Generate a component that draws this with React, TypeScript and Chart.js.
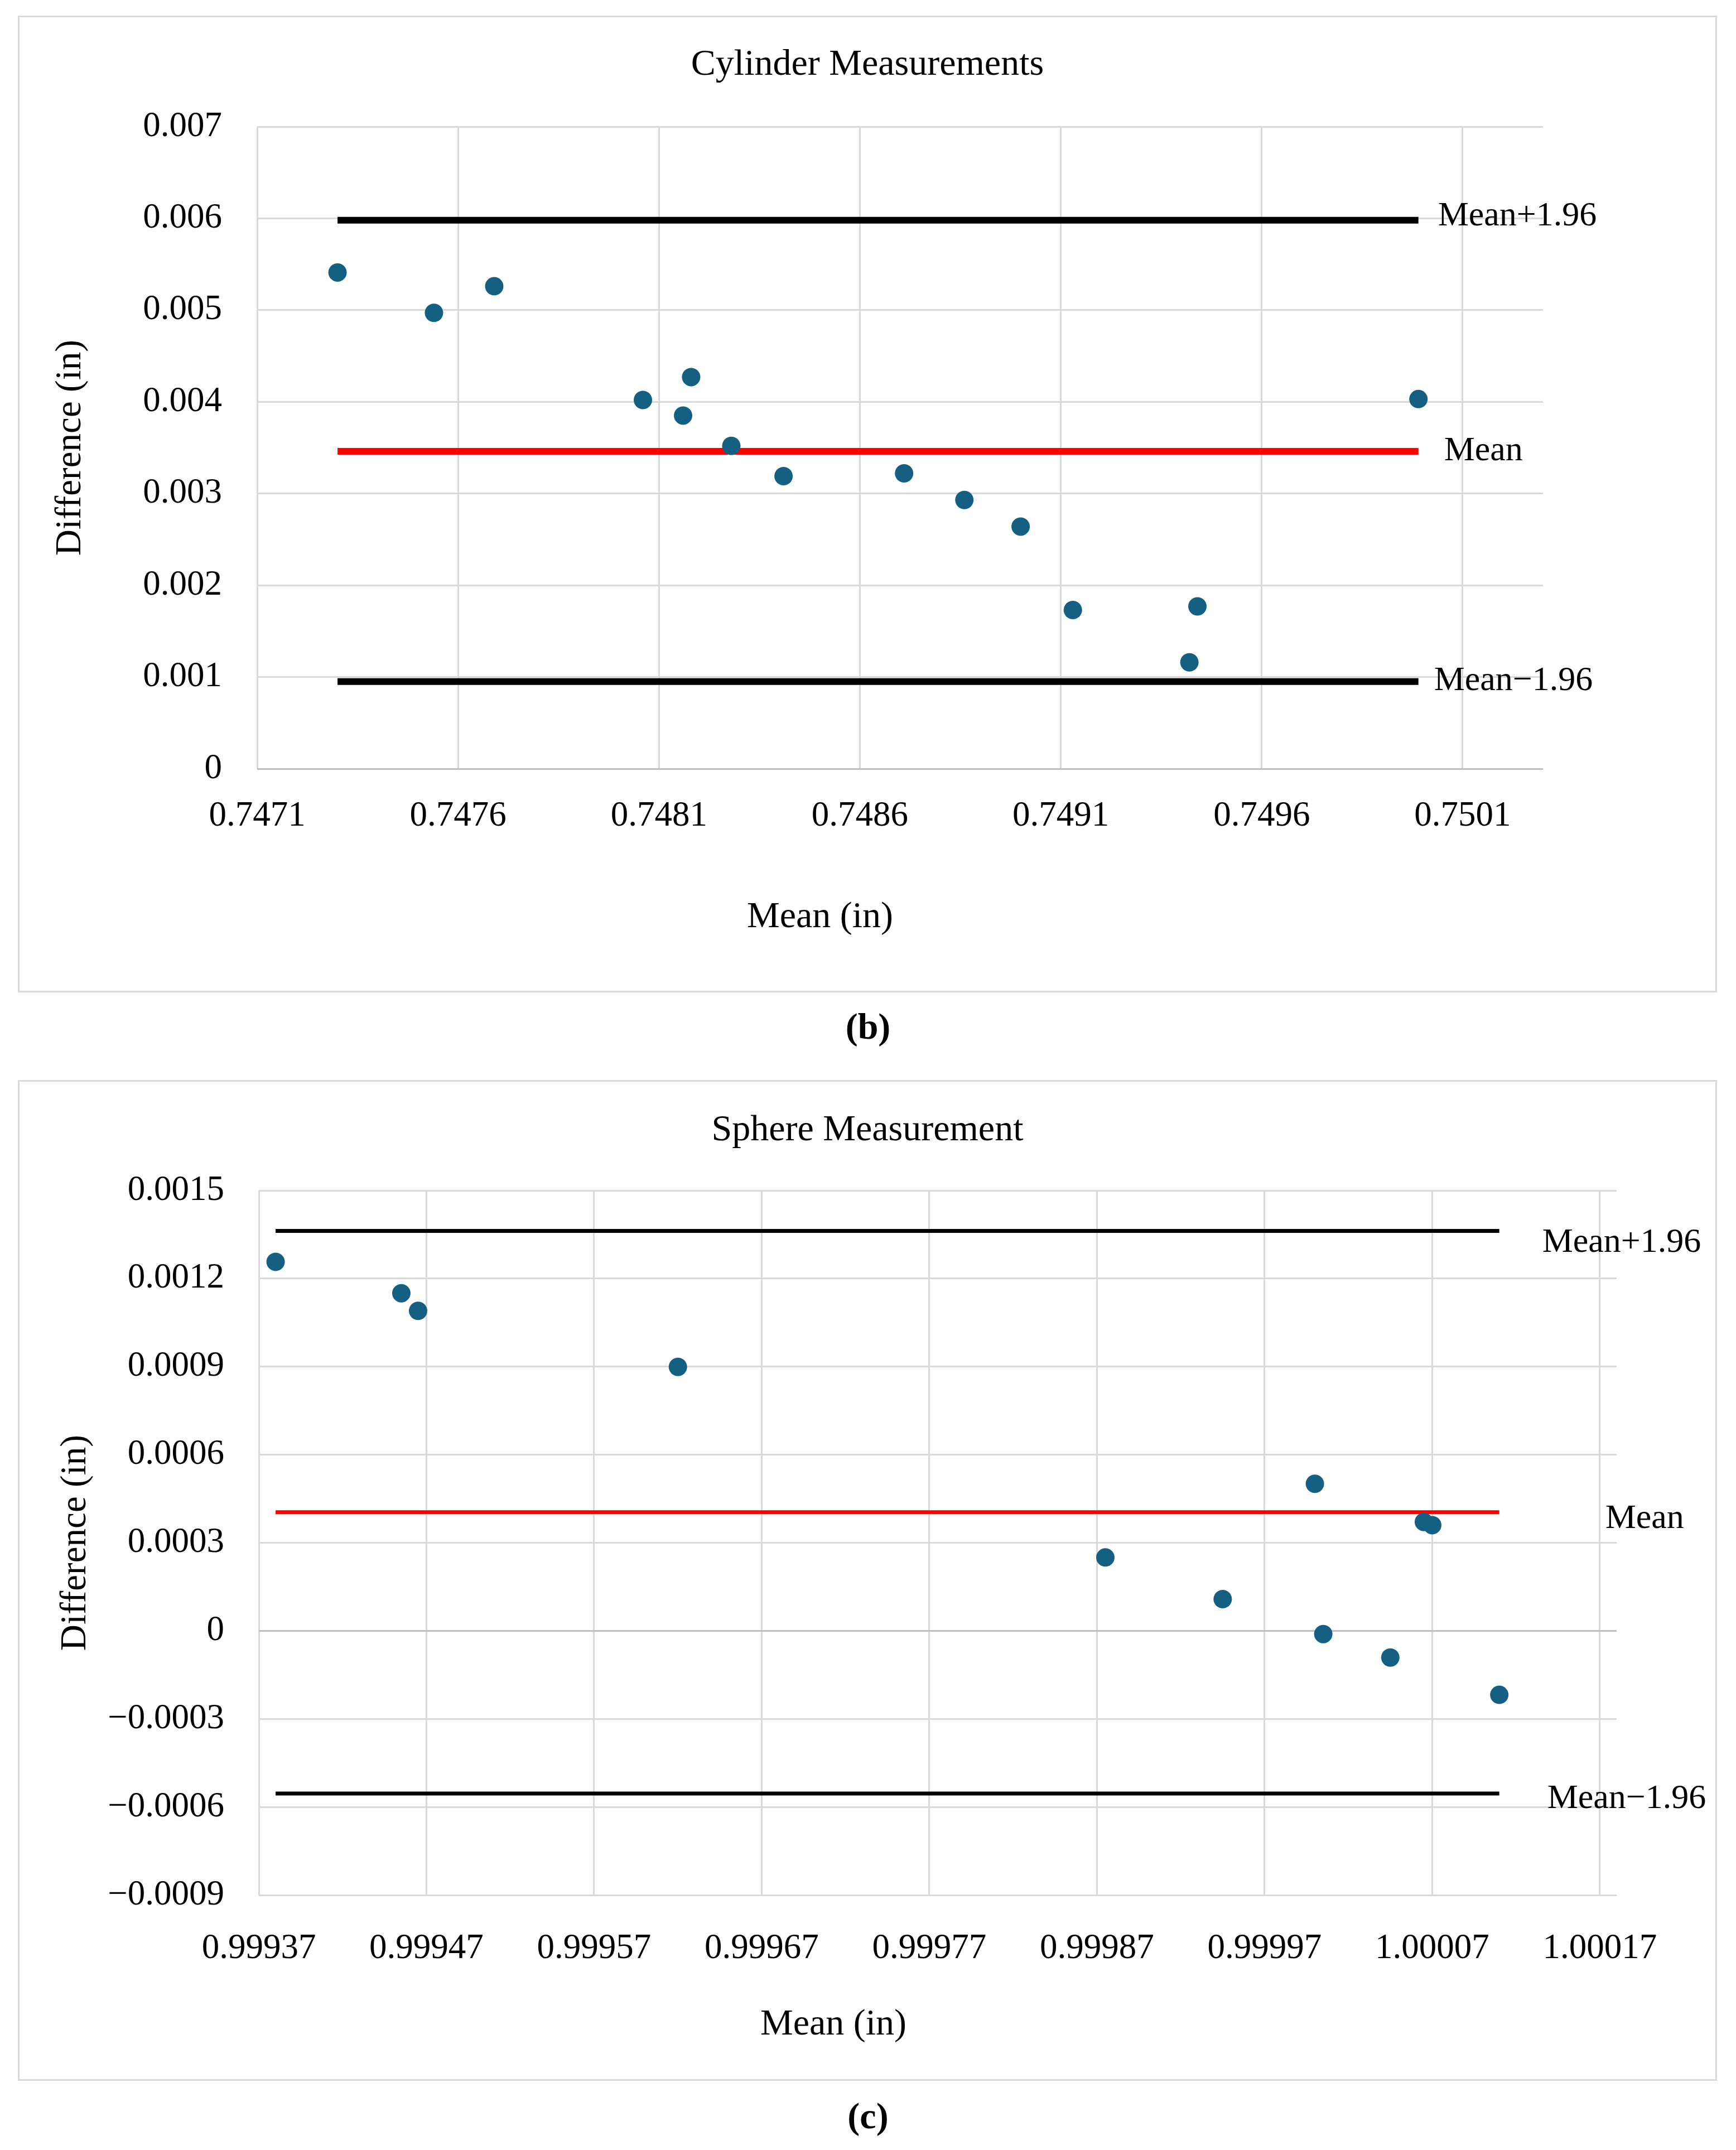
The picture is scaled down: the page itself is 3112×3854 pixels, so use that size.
import React, { useEffect, useRef } from "react";
import { Chart, registerables } from "chart.js";
import type { ChartConfiguration, Plugin } from "chart.js";

Chart.register(...registerables);

const FONT = "'Liberation Serif', 'Times New Roman', serif";
const POINT_COLOR = "#156082";
const GRID_COLOR = "#d9d9d9";
const ZERO_COLOR = "#bfbfbf";
const TEXT_COLOR = "#000000";

// (b) Cylinder measurements
const cylinderMeans = [
    0.7473, 0.74754, 0.74769, 0.74806, 0.74816, 0.74818, 0.74828, 0.74841,
    0.74871, 0.74886, 0.749, 0.74913, 0.74942, 0.74944, 0.74999,
];
const cylinderDiffs = [
    0.00541, 0.00497, 0.00526, 0.00402, 0.00385, 0.00427, 0.00352, 0.00319,
    0.00322, 0.00293, 0.00264, 0.00173, 0.00116, 0.00177, 0.00403,
];
const cylinderLimits = [0.00598, 0.00346, 0.00095];
const cylinderXTicks = ["0.7471", "0.7476", "0.7481", "0.7486", "0.7491", "0.7496", "0.7501"];
const cylinderXMax = 0.7503;
const cylinderYTicks = ["0", "0.001", "0.002", "0.003", "0.004", "0.005", "0.006", "0.007"];

// (c) Sphere measurement
const sphereMeans = [
    0.99938, 0.999455, 0.999465, 0.99962, 0.999875, 0.999945, 1.0, 1.000005,
    1.000045, 1.000065, 1.00007, 1.00011,
];
const sphereDiffs = [
    0.001257, 0.00115, 0.00109, 0.000899, 0.00025, 0.000108, 0.000501, -0.000011,
    -0.000091, 0.000371, 0.00036, -0.000218,
];
const sphereLimits = [0.001362, 0.000404, -0.000554];
const sphereXTicks = ["0.99937", "0.99947", "0.99957", "0.99967", "0.99977", "0.99987", "0.99997", "1.00007", "1.00017"];
const sphereXMax = 1.00018;
const sphereYTicks = ["−0.0009", "−0.0006", "−0.0003", "0", "0.0003", "0.0006", "0.0009", "0.0012", "0.0015"];

const limitLabels = ["Mean+1.96", "Mean", "Mean−1.96"];
const limitColors = ["#000000", "#ff0000", "#000000"];

const tickValue = (label: string) => Number(label.replace("−", "-"));

type PanelSpec = {
    title: string;
    caption: string;
    means: number[];
    diffs: number[];
    limits: number[];
    xTicks: string[];
    xMax: number;
    yTicks: string[];
    lineWidth: number;
    labelOffsets: [number, number][];
    box: { left: number; top: number; width: number; height: number };
    plot: { left: number; right: number; top: number; bottom: number };
    titleY: number;
    yTitlePad: number;
    yTickPad: number;
    xTickPad: number;
    xTitleAt: [number, number];
    captionY: number;
};

const panels: PanelSpec[] = [
    {
        title: "Cylinder Measurements",
        caption: "(b)",
        means: cylinderMeans,
        diffs: cylinderDiffs,
        limits: cylinderLimits,
        xTicks: cylinderXTicks,
        xMax: cylinderXMax,
        yTicks: cylinderYTicks,
        lineWidth: 12,
        labelOffsets: [[35, -7], [46, 0], [28, -1]],
        box: { left: 32, top: 28, width: 3046, height: 1751 },
        plot: { left: 426, right: 2731, top: 196, bottom: 1347 },
        titleY: 86,
        yTitlePad: 53,
        yTickPad: 63,
        xTickPad: 48,
        xTitleAt: [1009, 267],
        captionY: 1840,
    },
    {
        title: "Sphere Measurement",
        caption: "(c)",
        means: sphereMeans,
        diffs: sphereDiffs,
        limits: sphereLimits,
        xTicks: sphereXTicks,
        xMax: sphereXMax,
        yTicks: sphereYTicks,
        lineWidth: 7,
        labelOffsets: [[77, 21], [190, 12], [86, 10]],
        box: { left: 32, top: 1936, width: 3046, height: 1794 },
        plot: { left: 429, right: 2863, top: 195, bottom: 1458 },
        titleY: 88,
        yTitlePad: 62,
        yTickPad: 62,
        xTickPad: 59,
        xTitleAt: [1030, 233],
        captionY: 3793,
    },
];

// chart title, limit-line labels at the right end of each line, and the x axis title
const annotationPlugin: Plugin = {
    id: "baAnnotations",
    afterDatasetsDraw(chart, _args, opts: any) {
        const ctx = chart.ctx;
        ctx.save();
        ctx.fillStyle = TEXT_COLOR;
        ctx.textBaseline = "middle";

        ctx.textAlign = "center";
        ctx.font = `66px ${FONT}`;
        ctx.fillText(opts.title, chart.width / 2, opts.titleY);

        ctx.textAlign = "left";
        ctx.font = `62px ${FONT}`;
        opts.labels.forEach((text: string, i: number) => {
            const meta = chart.getDatasetMeta(i + 1);
            const end: any = meta.data[meta.data.length - 1];
            if (!end) return;
            const [dx, dy] = opts.offsets[i];
            ctx.fillText(text, end.x + dx, end.y + dy);
        });

        ctx.textAlign = "center";
        ctx.font = `66px ${FONT}`;
        ctx.fillText(opts.xTitle, chart.chartArea.left + opts.xTitleAt[0], chart.chartArea.bottom + opts.xTitleAt[1]);
        ctx.restore();
    },
};

const buildConfig = (spec: PanelSpec, width: number, height: number): ChartConfiguration => {
    const xValues = spec.xTicks.map(tickValue);
    const yValues = spec.yTicks.map(tickValue);
    const lo = Math.min(...spec.means);
    const hi = Math.max(...spec.means);
    const gridColor = (ctx: any) => (ctx.tick && Math.abs(ctx.tick.value) < 1e-12 ? ZERO_COLOR : GRID_COLOR);
    const tickFont = { family: FONT, size: 63 };

    return {
        type: "scatter",
        data: {
            datasets: [
                {
                    label: "Difference",
                    data: spec.means.map((x, i) => ({ x, y: spec.diffs[i] })),
                    backgroundColor: POINT_COLOR,
                    borderColor: POINT_COLOR,
                    borderWidth: 0,
                    pointRadius: 16.5,
                    order: 0,
                },
                ...spec.limits.map((value, i) => ({
                    label: limitLabels[i],
                    data: [
                        { x: lo, y: value },
                        { x: hi, y: value },
                    ],
                    showLine: true,
                    borderColor: limitColors[i],
                    backgroundColor: limitColors[i],
                    borderWidth: spec.lineWidth,
                    borderCapStyle: "butt" as const,
                    pointRadius: 0,
                    order: 1,
                })),
            ],
        },
        options: {
            responsive: false,
            devicePixelRatio: 1,
            animation: false,
            layout: {
                autoPadding: false,
                padding: { left: 0, top: spec.plot.top, bottom: 0, right: width - spec.plot.right },
            },
            plugins: {
                legend: { display: false },
                tooltip: { enabled: false },
                title: { display: false },
                baAnnotations: {
                    title: spec.title,
                    titleY: spec.titleY,
                    labels: limitLabels,
                    offsets: spec.labelOffsets,
                    xTitle: "Mean (in)",
                    xTitleAt: spec.xTitleAt,
                },
            } as any,
            scales: {
                x: {
                    type: "linear",
                    min: xValues[0],
                    max: spec.xMax,
                    afterBuildTicks: (scale: any) => {
                        scale.ticks = xValues.map((value) => ({ value }));
                    },
                    afterFit: (scale: any) => {
                        scale.height = height - spec.plot.bottom;
                    },
                    ticks: {
                        callback: (_value: any, index: number) => spec.xTicks[index],
                        color: TEXT_COLOR,
                        font: tickFont,
                        padding: spec.xTickPad,
                        autoSkip: false,
                        maxRotation: 0,
                    },
                    grid: { color: gridColor, lineWidth: 3, drawTicks: false },
                    border: { display: false },
                },
                y: {
                    type: "linear",
                    min: yValues[0],
                    max: yValues[yValues.length - 1],
                    afterBuildTicks: (scale: any) => {
                        scale.ticks = yValues.map((value) => ({ value }));
                    },
                    afterFit: (scale: any) => {
                        scale.width = spec.plot.left;
                    },
                    ticks: {
                        callback: (_value: any, index: number) => spec.yTicks[index],
                        color: TEXT_COLOR,
                        font: tickFont,
                        padding: spec.yTickPad,
                    },
                    grid: { color: gridColor, lineWidth: 3, drawTicks: false },
                    border: { display: false },
                    title: {
                        display: true,
                        text: "Difference (in)",
                        color: TEXT_COLOR,
                        font: { family: FONT, size: 65 },
                        padding: { top: spec.yTitlePad, bottom: 0 },
                    },
                },
            },
        } as any,
        plugins: [annotationPlugin],
    };
};

const BORDER = 3;

const Panel: React.FC<{ spec: PanelSpec }> = ({ spec }) => {
    const canvasRef = useRef<HTMLCanvasElement | null>(null);
    const width = spec.box.width - BORDER * 2;
    const height = spec.box.height - BORDER * 2;

    useEffect(() => {
        const canvas = canvasRef.current;
        if (!canvas) return;
        const chart = new Chart(canvas, buildConfig(spec, width, height));
        return () => {
            chart.destroy();
        };
    }, [spec, width, height]);

    return (
        <>
            <div
                style={{
                    position: "absolute",
                    left: spec.box.left,
                    top: spec.box.top,
                    width: spec.box.width,
                    height: spec.box.height,
                    boxSizing: "border-box",
                    border: `${BORDER}px solid ${GRID_COLOR}`,
                    background: "#ffffff",
                }}
            >
                <canvas ref={canvasRef} width={width} height={height} style={{ display: "block", width, height }} />
            </div>
            <div
                style={{
                    position: "absolute",
                    left: 0,
                    width: 3112,
                    top: spec.captionY - 40,
                    height: 80,
                    lineHeight: "80px",
                    textAlign: "center",
                    fontFamily: FONT,
                    fontSize: 66,
                    fontWeight: "bold",
                    color: TEXT_COLOR,
                }}
            >
                {spec.caption}
            </div>
        </>
    );
};

export default function App() {
    return (
        <div style={{ position: "absolute", left: 0, top: 0, width: 3112, height: 3854, background: "#ffffff" }}>
            {panels.map((spec) => (
                <Panel key={spec.caption} spec={spec} />
            ))}
        </div>
    );
}
